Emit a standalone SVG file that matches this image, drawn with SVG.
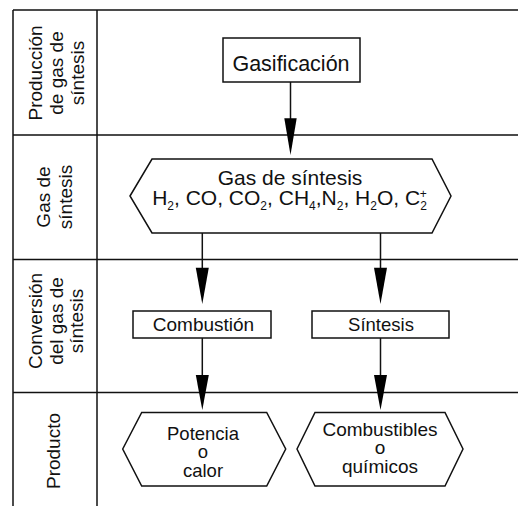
<svg xmlns="http://www.w3.org/2000/svg" width="518" height="506" viewBox="0 0 518 506">
<defs>
<style>
.ln{stroke:#111;stroke-width:1.5;fill:none}
.bx{stroke:#111;stroke-width:1.5;fill:#fff}
.t{font-family:"Liberation Sans",Arial,sans-serif;fill:#111;text-anchor:middle}
.lab{font-size:19px}
.ah{fill:#000}
</style>
</defs>
<rect width="518" height="506" fill="#fff"/>
<g id="frame">
<path class="ln" d="M13 10H518M13 10V506M97 10V506M13 135H518M13 259.5H518M13 392.5H518"/>
</g>
<g id="lane-labels">
<text class="t lab" transform="translate(42,73) rotate(-90)">Producción</text>
<text class="t lab" transform="translate(63,73) rotate(-90)">de gas de</text>
<text class="t lab" transform="translate(84,73) rotate(-90)">síntesis</text>
<text class="t lab" transform="translate(50,197) rotate(-90)">Gas de</text>
<text class="t lab" transform="translate(71.5,197) rotate(-90)">síntesis</text>
<text class="t lab" transform="translate(42,321) rotate(-90)">Conversión</text>
<text class="t lab" transform="translate(63,321) rotate(-90)">del gas de</text>
<text class="t lab" transform="translate(83,321) rotate(-90)">síntesis</text>
<text class="t lab" transform="translate(60,451) rotate(-90)">Producto</text>
</g>
<g id="connectors">
<path class="ln" d="M290.5 82V120"/>
<path class="ah" d="M284.3 118.3H296.7L290.5 155Z"/>
<path class="ln" d="M202.3 233V270"/>
<path class="ah" d="M195.8 267.7H208.8L202.3 304Z"/>
<path class="ln" d="M380.5 233V270"/>
<path class="ah" d="M374 267.7H387L380.5 304Z"/>
<path class="ln" d="M202.3 338V377"/>
<path class="ah" d="M195.8 375H208.8L202.3 410Z"/>
<path class="ln" d="M380.5 338V377"/>
<path class="ah" d="M374 375H387L380.5 410Z"/>
</g>
<g id="gasificacion">
<rect class="bx" x="223" y="38" width="137" height="44"/>
<text class="t" x="291" y="71" font-size="21.5">Gasificación</text>
</g>
<g id="gas-sintesis">
<path class="bx" d="M130 196L152 159H432L451 196L432 233H152Z"/>
<text class="t" x="290" y="184.5" font-size="21">Gas de síntesis</text>
<text class="t" x="289.5" y="205" font-size="21">H<tspan font-size="12" dy="5">2</tspan><tspan dy="-5">, CO, CO</tspan><tspan font-size="12" dy="5">2</tspan><tspan dy="-5">, CH</tspan><tspan font-size="12" dy="5">4</tspan><tspan dy="-5">,N</tspan><tspan font-size="12" dy="5">2</tspan><tspan dy="-5">, H</tspan><tspan font-size="12" dy="5">2</tspan><tspan dy="-5">O, C</tspan><tspan font-size="12" dy="5">2</tspan><tspan font-size="12" dx="-7" dy="-12">+</tspan></text>
</g>
<g id="combustion">
<rect class="bx" x="133" y="311" width="138" height="27"/>
<text class="t" x="203.5" y="330.5" font-size="19">Combustión</text>
</g>
<g id="sintesis">
<rect class="bx" x="312" y="311" width="137" height="27"/>
<text class="t" x="381" y="330.5" font-size="18.5">Síntesis</text>
</g>
<g id="potencia">
<path class="bx" d="M122.7 449L141.7 412.5H266.7L285.7 449L266.7 486H141.7Z"/>
<text class="t" font-size="18.5"><tspan x="203" y="440">Potencia</tspan><tspan x="203" y="457.5">o</tspan><tspan x="203" y="476.5">calor</tspan></text>
</g>
<g id="combustibles">
<path class="bx" d="M297 449L315 412.5H445L463 449L445 486H315Z"/>
<text class="t" font-size="19"><tspan x="380" y="436">Combustibles</tspan><tspan x="380" y="454">o</tspan><tspan x="380" y="473">químicos</tspan></text>
</g>
</svg>
